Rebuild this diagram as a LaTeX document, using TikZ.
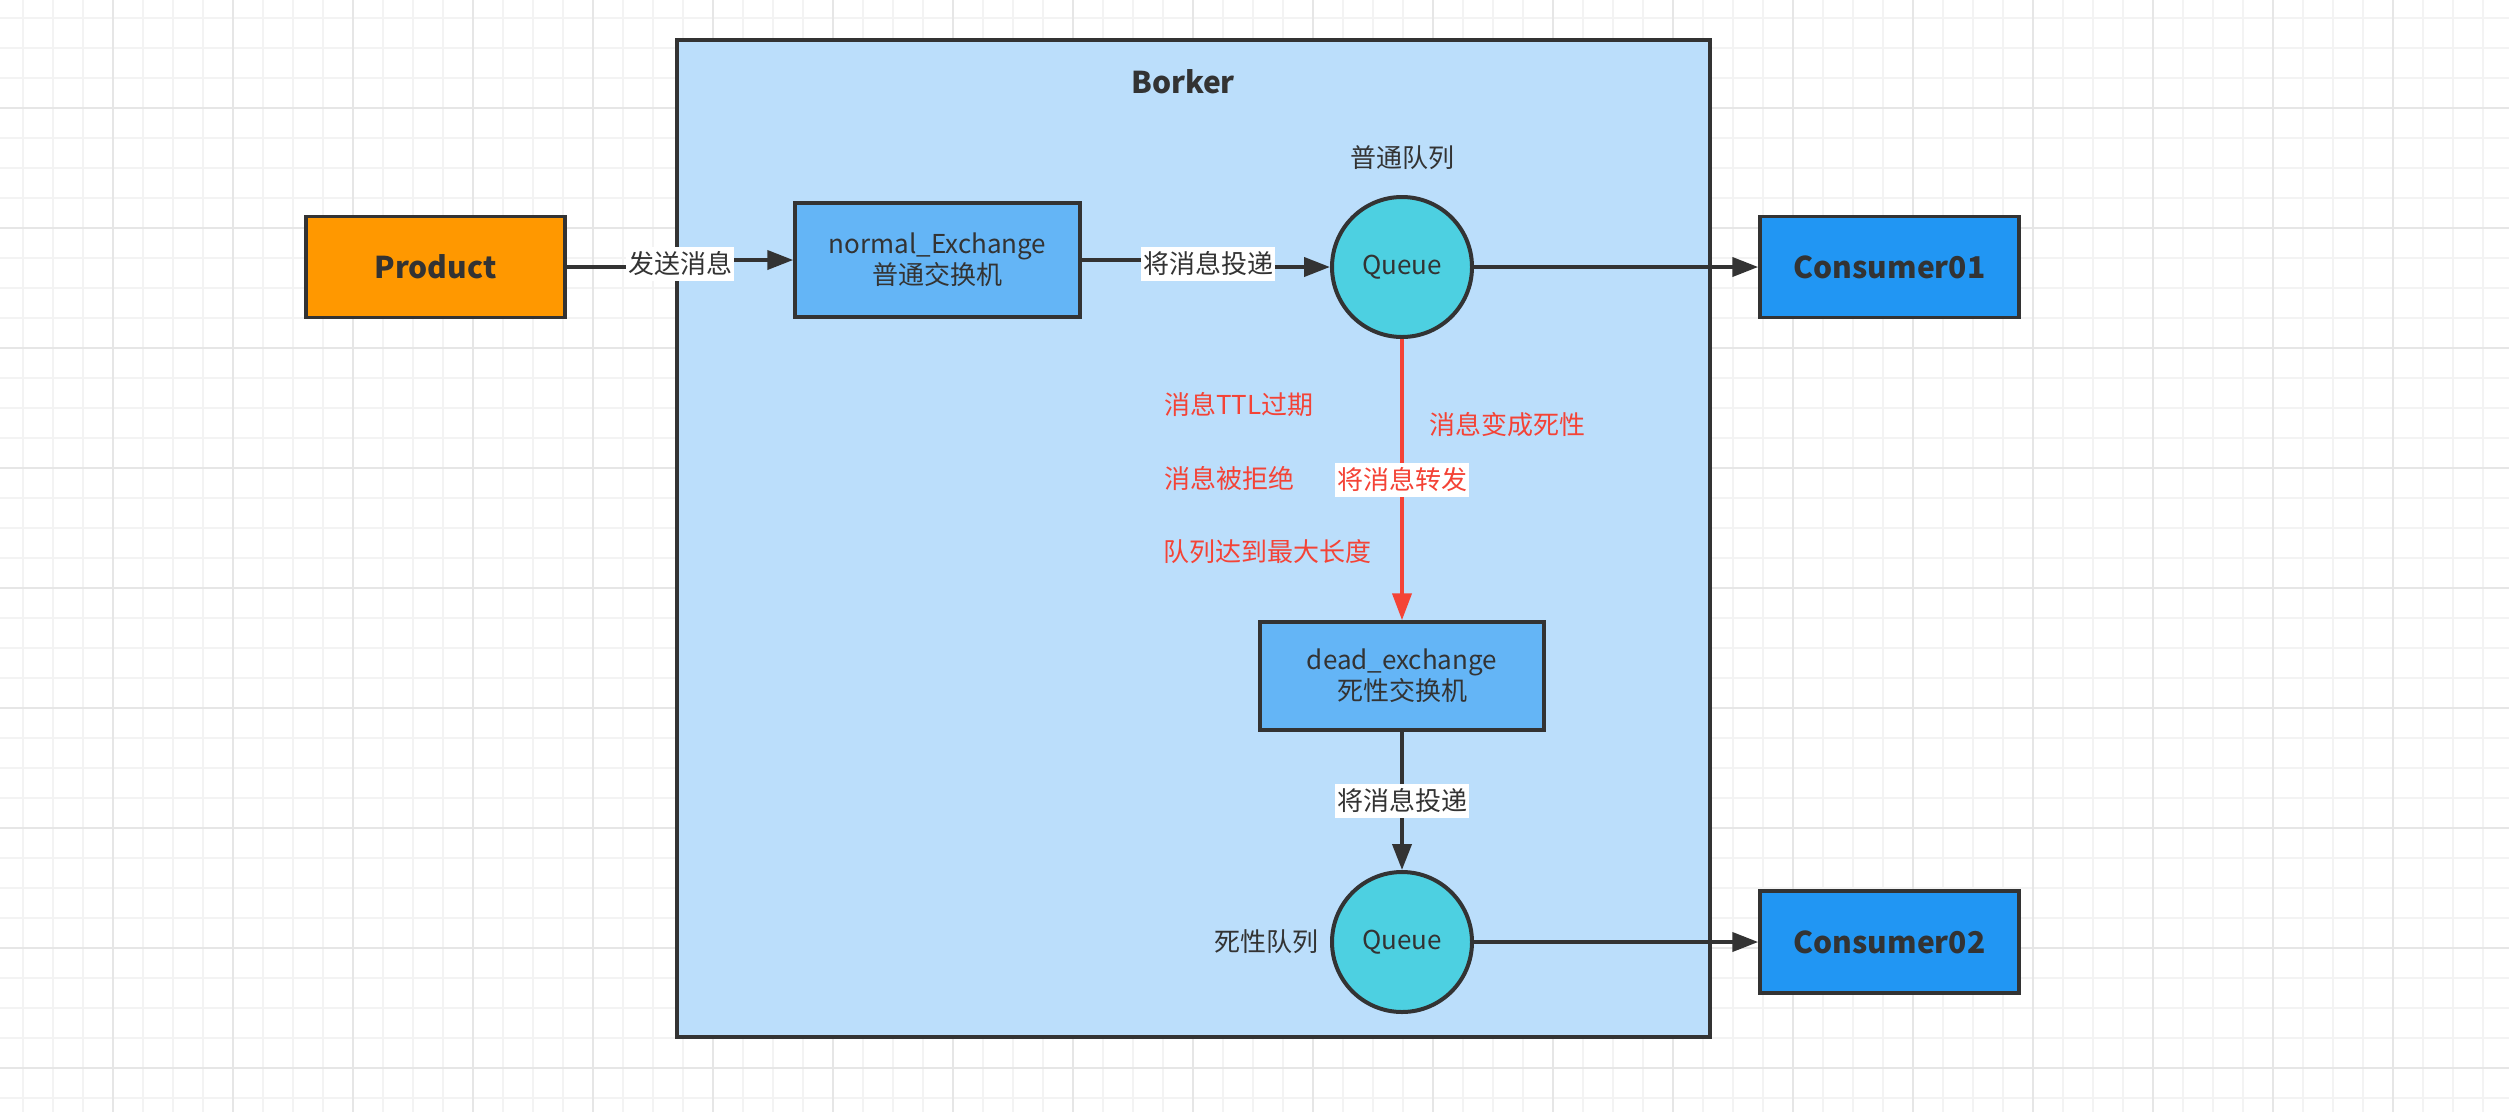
\documentclass[tikz,border=0pt]{standalone}
\usepackage{fontspec}
\setmainfont{Noto Sans CJK SC}
\usetikzlibrary{arrows.meta}
\definecolor{ink}{HTML}{333333}
\definecolor{gridminor}{HTML}{F3F3F3}
\definecolor{gridmajor}{HTML}{E6E6E6}
\definecolor{prodfill}{HTML}{FF9800}
\definecolor{brokerfill}{HTML}{BBDEFB}
\definecolor{exfill}{HTML}{64B5F6}
\definecolor{qfill}{HTML}{4DD0E1}
\definecolor{consfill}{HTML}{2196F3}
\definecolor{redc}{HTML}{F44336}
\tikzset{
  boxnode/.style={draw=ink, line width=3.5pt, rectangle, inner sep=0pt, text=ink, align=center},
  qnode/.style={draw=ink, line width=4pt, circle, fill=qfill, minimum size=140pt, inner sep=0pt, text=ink, font=\fontsize{26}{30}\selectfont},
  boldtxt/.style={font=\fontsize{30}{34}\selectfont\bfseries},
  normtxt/.style={font=\fontsize{26}{31}\selectfont},
  arr/.style={draw=ink, line width=4pt, -{Triangle[length=26pt,width=19pt]}},
  redarr/.style={draw=redc, line width=4pt, -{Triangle[length=27pt,width=19pt]}},
  lbl/.style={fill=white, text=ink, inner xsep=2pt, inner ysep=5pt, font=\fontsize{26}{30}\selectfont},
  redlbl/.style={text=redc, inner sep=0pt, font=\fontsize{26}{30}\selectfont},
  plain/.style={text=ink, inner sep=0pt, font=\fontsize{26}{30}\selectfont}
}
\begin{document}
\begin{tikzpicture}[x=1pt, y=-1pt]
\useasboundingbox (0,0) rectangle (2509,1112);
\fill[white] (0,0) rectangle (2509,1112);
% grid
\foreach \gx in {23,53,...,2509} {\draw[gridminor, line width=1.5pt] (\gx,0) -- (\gx,1112);}
\foreach \gy in {18,48,...,1112} {\draw[gridminor, line width=1.5pt] (0,\gy) -- (2509,\gy);}
\foreach \gx in {113,233,...,2509} {\draw[gridmajor, line width=2pt] (\gx,0) -- (\gx,1112);}
\foreach \gy in {108,228,...,1112} {\draw[gridmajor, line width=2pt] (0,\gy) -- (2509,\gy);}

% broker
\node[boxnode, fill=brokerfill, minimum width=1033pt, minimum height=997pt] (broker) at (1193.5,538.5) {};
\node[text=ink, inner sep=0pt, boldtxt] (brokertitle) at (1183,82) {Borker};

% nodes
\node[boxnode, fill=prodfill, minimum width=259pt, minimum height=101pt, boldtxt] (prod) at (435.5,267) {Product};
\node[boxnode, fill=exfill, minimum width=285pt, minimum height=114pt, normtxt] (nex) at (937.5,260) {normal\_Exchange\\普通交换机};
\node[qnode] (q1) at (1402,267) {Queue};
\node[plain] (q1lab) at (1402,158) {普通队列};
\node[boxnode, fill=consfill, minimum width=259pt, minimum height=101pt, boldtxt] (c1) at (1889.5,267) {Consumer01};

\node[boxnode, fill=exfill, minimum width=284pt, minimum height=108pt, normtxt] (dex) at (1402,676) {dead\_exchange\\死性交换机};
\node[qnode] (q2) at (1402,942) {Queue};
\node[plain] (q2lab) at (1266,942) {死性队列};
\node[boxnode, fill=consfill, minimum width=259pt, minimum height=102pt, boldtxt] (c2) at (1889.5,942) {Consumer02};

% red notes
\node[redlbl, anchor=west] (n1) at (1164,405) {消息TTL过期};
\node[redlbl, anchor=west] (n2) at (1164,478) {消息被拒绝};
\node[redlbl, anchor=west] (n3) at (1163,552) {队列达到最大长度};
\node[redlbl, anchor=west] (n4) at (1429,425) {消息变成死性};

% connectors
\coordinate (m1) at (680,264);
\draw[arr] (prod.east) -| (m1) |- (nex.west);
\node[lbl] (l1) at (m1) {发送消息};

\coordinate (m2) at (1208,264);
\draw[arr] (nex.east) -| (m2) |- (q1.west);
\node[lbl] (l2) at (m2) {将消息投递};

\draw[arr] (q1.east) -- (c1.west);

\draw[redarr] (q1.south) -- (dex.north) node[midway, fill=white, text=redc, inner xsep=2pt, inner ysep=5pt, font=\fontsize{26}{30}\selectfont] (l3) {将消息转发};

\draw[arr] (dex.south) -- (q2.north) node[midway, lbl] (l4) {将消息投递};

\draw[arr] (q2.east) -- (c2.west);
\end{tikzpicture}
\end{document}
